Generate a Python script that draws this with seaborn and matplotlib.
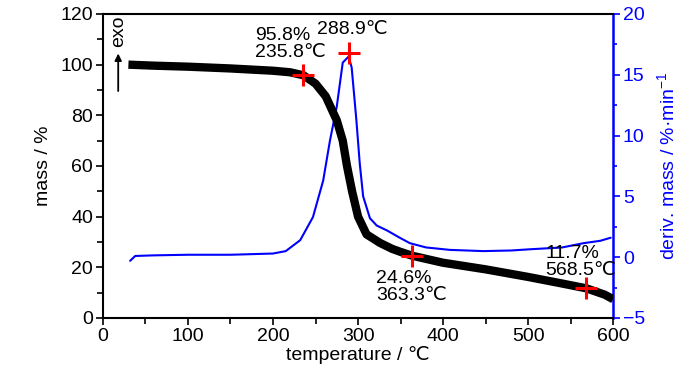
import seaborn as sns
import matplotlib.pyplot as plt
from matplotlib.ticker import MultipleLocator
import pandas as pd

sns.set_style("white")
plt.rcParams['font.family'] = ['Liberation Sans', 'DejaVu Sans']
plt.rcParams['mathtext.default'] = 'regular'
plt.rcParams['text.color'] = 'black'
plt.rcParams['axes.labelcolor'] = 'black'
plt.rcParams['xtick.color'] = 'black'
plt.rcParams['ytick.color'] = 'black'

# mass curve (TG)
temp_tg = [30, 60, 100, 150, 200, 220, 235.8, 250, 262, 275, 282, 287, 293, 300, 310, 326, 340, 349, 363.3,
           400, 450, 500, 540, 568.5, 590, 600]
mass_tg = [100, 99.6, 99.2, 98.5, 97.6, 97.0, 95.8, 92.5, 87.5, 78, 70, 60, 50, 40, 33, 29.6, 27.3, 26.2, 24.6,
           21.8, 19.2, 16.2, 13.6, 11.7, 9.2, 7.4]

# derivative curve (DTG)
temp_dtg = [32, 38, 60, 100, 150, 200, 215, 232, 247, 259, 267, 275, 282, 288.9, 292.5, 298, 302, 306, 314,
            322, 334, 349, 361, 380, 408, 447, 480, 502, 540, 565, 585, 597]
dtg = [-0.3, 0.1, 0.15, 0.2, 0.2, 0.3, 0.5, 1.4, 3.3, 6.3, 9.6, 12.4, 16.0, 16.5, 15.6, 11.3, 7.7, 5.0, 3.2,
       2.6, 2.2, 1.6, 1.15, 0.8, 0.6, 0.5, 0.55, 0.65, 0.8, 1.15, 1.35, 1.6]

# marked points
mark_t = [235.8, 363.3, 568.5]
mark_m = [95.8, 24.6, 11.7]
peak_t = [288.9]
peak_v = [16.8]

df_tg = pd.DataFrame({"temperature": temp_tg, "mass": mass_tg})
df_dtg = pd.DataFrame({"temperature": temp_dtg, "dtg": dtg})

fig = plt.figure(figsize=(7, 3.73), dpi=100)
ax = fig.add_axes([0.147, 0.1475, 0.729, 0.815])
ax2 = ax.twinx()

sns.lineplot(data=df_tg, x="temperature", y="mass", ax=ax, color="black", linewidth=6,
             solid_capstyle="butt", zorder=3)
sns.lineplot(data=df_dtg, x="temperature", y="dtg", ax=ax2, color="#0000ff", linewidth=1.5)

ax.scatter(mark_t, mark_m, marker="+", s=260, color="red", linewidths=2.2, zorder=5)
ax2.scatter(peak_t, peak_v, marker="+", s=260, color="red", linewidths=2.2, zorder=5)

fs = 14
ax.set_xlim(0, 600)
ax.set_ylim(0, 120)
ax2.set_ylim(-5, 20)
ax.xaxis.set_major_locator(MultipleLocator(100))
ax.xaxis.set_minor_locator(MultipleLocator(50))
ax.yaxis.set_major_locator(MultipleLocator(20))
ax.yaxis.set_minor_locator(MultipleLocator(10))
ax2.yaxis.set_major_locator(MultipleLocator(5))
ax2.yaxis.set_minor_locator(MultipleLocator(2.5))

ax.tick_params(axis="both", which="major", direction="out", length=5, width=1.2, labelsize=fs, pad=2)
ax.tick_params(axis="both", which="minor", direction="out", length=4, width=1.2)
ax.tick_params(axis="x", which="both", bottom=True)
ax.tick_params(axis="y", which="both", left=True)
ax2.tick_params(axis="y", which="major", direction="out", length=5, width=1.2, labelsize=fs,
                colors="#0000ff", pad=2)
ax2.tick_params(axis="y", which="minor", direction="out", length=3, width=1.2, colors="#0000ff")

for s in ["left", "bottom", "top"]:
    ax.spines[s].set_linewidth(1.5)
    ax.spines[s].set_color("black")
ax.spines["right"].set_visible(False)
for s in ["left", "bottom", "top"]:
    ax2.spines[s].set_visible(False)
ax2.spines["right"].set_color("#0000ff")
ax2.spines["right"].set_linewidth(1.8)

ax.set_xlabel("temperature / ℃", fontsize=fs, labelpad=1)
ax.set_ylabel("mass / %", fontsize=fs, labelpad=6)
ax2.set_ylabel("deriv. mass / %·min$^{-1}$", fontsize=fs, color="#0000ff", labelpad=8)

# annotations
ax.text(179, 101.5, "95.8%\n235.8℃", fontsize=fs, linespacing=1.0, va="bottom", ha="left")
ax.text(252, 110.5, "288.9℃", fontsize=fs, va="bottom", ha="left")
ax.text(321, 19, "24.6%\n363.3℃", fontsize=fs, linespacing=1.0, va="top", ha="left")
ax.text(520, 15.5, "11.7%\n568.5℃", fontsize=fs, linespacing=1.0, va="bottom", ha="left")

# exo arrow
ax.annotate("", xy=(18, 105.5), xytext=(18, 88.5),
            arrowprops=dict(arrowstyle="-|>", color="black", lw=1.3, mutation_scale=10))
ax.text(18, 107, "exo", rotation=90, fontsize=fs, ha="center", va="bottom")

ax.set_zorder(ax2.get_zorder() + 1)
ax.patch.set_visible(False)

plt.savefig("out.png", dpi=100)
plt.close()
